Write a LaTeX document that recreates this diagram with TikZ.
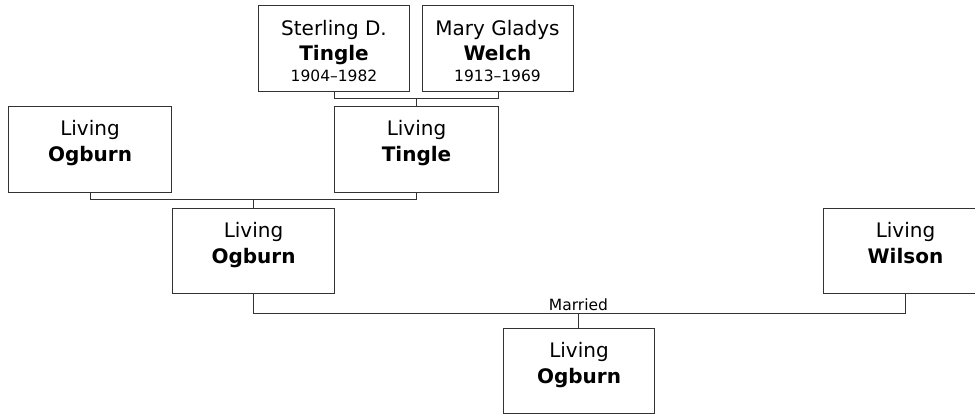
\documentclass[tikz,border=0pt]{standalone}
\usepackage{fontspec}
\setmainfont{DejaVu Sans}
\begin{document}
\begin{tikzpicture}[x=1pt,y=-1pt,
  line width=1pt,
  conn/.style={draw=black!80},
  box/.style={draw=black!80, rectangle, inner sep=0pt, outer sep=0pt, anchor=north west},
  big/.style={font=\fontsize{20}{24}\selectfont, anchor=base, inner sep=0pt},
  bigb/.style={font=\fontsize{20}{24}\selectfont\bfseries, anchor=base, inner sep=0pt},
  small/.style={font=\fontsize{15.5}{18}\selectfont, anchor=base, inner sep=0pt}]
\useasboundingbox (0,0) rectangle (975,416);
\clip (0,0) rectangle (975,416);
% boxes
\node[box, minimum width=151pt, minimum height=86pt] (sd) at (258.5,5.5) {};
\node[box, minimum width=151pt, minimum height=86pt] (mg) at (422.5,5.5) {};
\node[box, minimum width=163pt, minimum height=86pt] (lo) at (8.5,106.5) {};
\node[box, minimum width=164pt, minimum height=86pt] (lt) at (334.5,106.5) {};
\node[box, minimum width=162pt, minimum height=85pt] (lm) at (172.5,208.5) {};
\node[box, minimum width=164pt, minimum height=85pt] (lw) at (823.5,208.5) {};
\node[box, minimum width=151pt, minimum height=85pt] (lc) at (503.5,328.5) {};
% texts
\node[big]   (sd1) at (334,35) {Sterling D.};
\node[bigb]  (sd2) at (334,60) {Tingle};
\node[small] (sd3) at (334,81) {1904–1982};
\node[big]   (mg1) at (497.5,35) {Mary Gladys};
\node[bigb]  (mg2) at (497.5,60) {Welch};
\node[small] (mg3) at (497.5,81) {1913–1969};
\node[big]   (lo1) at (90,135) {Living};
\node[bigb]  (lo2) at (90,161) {Ogburn};
\node[big]   (lt1) at (416.5,135) {Living};
\node[bigb]  (lt2) at (416.5,161) {Tingle};
\node[big]   (lm1) at (253.5,237) {Living};
\node[bigb]  (lm2) at (253.5,263) {Ogburn};
\node[big]   (lw1) at (905.5,237) {Living};
\node[bigb]  (lw2) at (905.5,263) {Wilson};
\node[big]   (lc1) at (579,357) {Living};
\node[bigb]  (lc2) at (579,383) {Ogburn};
% junctions
\coordinate (j1) at (416.5,98.5);
\coordinate (j2) at (253.5,199.5);
\coordinate (j3) at (578.5,313.5);
% connectors
\draw[conn] (sd.south) |- (j1) -| (mg.south);
\draw[conn] (j1) -- (j1 |- lt.north);
\draw[conn] (lo.south) |- (j2) -| (lt.south);
\draw[conn] (j2) -- (j2 |- lm.north);
\draw[conn] (lm.south) |- (j3) -| (lw.south);
\draw[conn] (j3) -- (j3 |- lc.north);
\node[small] (mar) at (578.5,310) {Married};
\end{tikzpicture}
\end{document}
